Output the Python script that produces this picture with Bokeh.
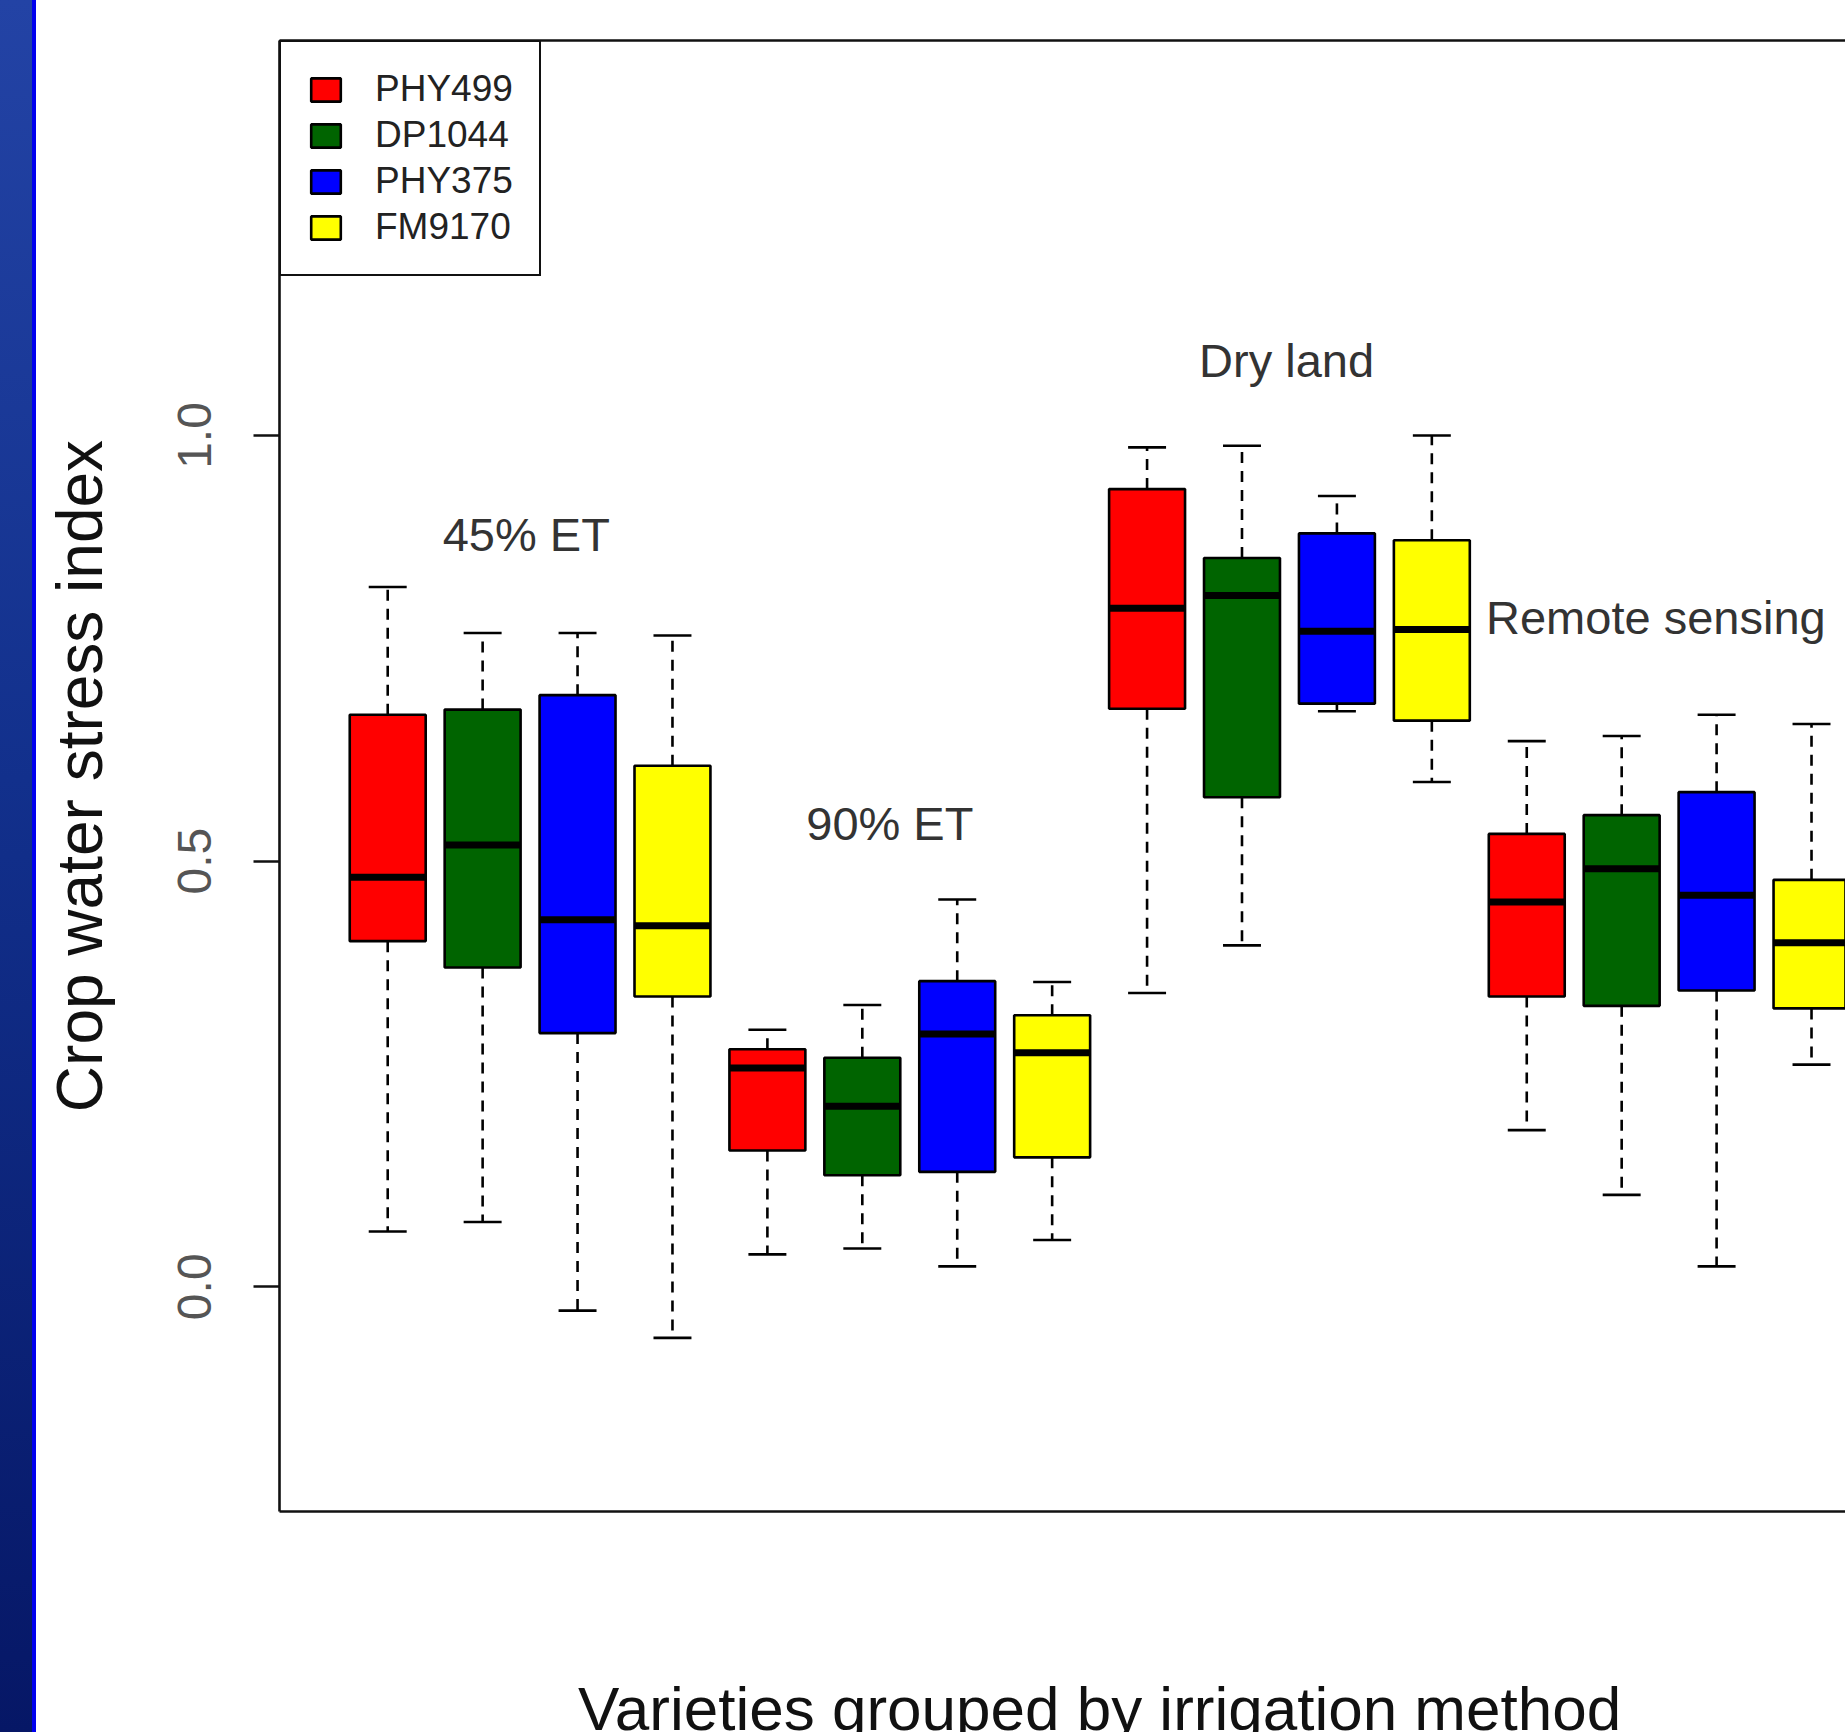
from bokeh.plotting import figure
from bokeh.models import (Range1d, LinearAxis, FixedTicker, NumeralTickFormatter,
                          Legend, LegendItem, Div, ColumnDataSource)
from bokeh.layouts import row, column
from bokeh.embed import file_html
from bokeh.resources import INLINE
from bokeh.core.properties import value

# ---------------- data ----------------
groups = ["45% ET", "90% ET", "Dry land", "Remote sensing"]
varieties = ["PHY499", "DP1044", "PHY375", "FM9170"]
colors = ["#ff0000", "#006400", "#0000ff", "#ffff00"]

# values per variety, one per irrigation group (45% ET, 90% ET, Dry land, Remote sensing)
whisker_low = {
    "PHY499": [0.065, 0.038, 0.345, 0.184],
    "DP1044": [0.076, 0.045, 0.401, 0.108],
    "PHY375": [-0.028, 0.024, 0.676, 0.024],
    "FM9170": [-0.060, 0.055, 0.593, 0.261],
}
quart_1 = {
    "PHY499": [0.406, 0.160, 0.679, 0.341],
    "DP1044": [0.375, 0.131, 0.575, 0.330],
    "PHY375": [0.298, 0.135, 0.685, 0.348],
    "FM9170": [0.341, 0.152, 0.665, 0.327],
}
medians = {
    "PHY499": [0.481, 0.257, 0.797, 0.452],
    "DP1044": [0.519, 0.212, 0.812, 0.491],
    "PHY375": [0.431, 0.297, 0.770, 0.460],
    "FM9170": [0.424, 0.275, 0.772, 0.404],
}
quart_3 = {
    "PHY499": [0.672, 0.279, 0.937, 0.532],
    "DP1044": [0.678, 0.269, 0.856, 0.554],
    "PHY375": [0.695, 0.359, 0.885, 0.581],
    "FM9170": [0.612, 0.319, 0.877, 0.478],
}
whisker_high = {
    "PHY499": [0.822, 0.302, 0.986, 0.641],
    "DP1044": [0.768, 0.331, 0.988, 0.647],
    "PHY375": [0.768, 0.455, 0.929, 0.672],
    "FM9170": [0.765, 0.358, 1.000, 0.661],
}

group_label_x = [2.46, 6.29, 10.47, 14.36]
group_label_y = [0.884, 0.544, 1.088, 0.786]

y_ticks = [0.0, 0.5, 1.0]
y_title = "Crop water stress index"
x_title = "Varieties grouped by irrigation method"

# ---------------- styling ----------------
FONT = "Liberation Sans"
BOX_W = 0.8
CAP_W = 0.4
LW = 2.6
PLOT_W = 1809

x_rng = Range1d(-0.14, 16.358)

p = figure(width=PLOT_W, height=1582, output_backend="svg", toolbar_location=None,
           x_range=x_rng, y_range=Range1d(-0.264, 1.464),
           x_axis_location=None, y_axis_location=None,
           min_border_left=243, min_border_right=0,
           min_border_top=40, min_border_bottom=71)
p.outline_line_color = None
p.grid.visible = False

# left axis
yaxis = LinearAxis(ticker=FixedTicker(ticks=y_ticks),
                   formatter=NumeralTickFormatter(format="0.0"),
                   axis_label=y_title)
yaxis.axis_line_width = LW
yaxis.axis_line_color = "#111111"
yaxis.major_tick_line_width = LW
yaxis.major_tick_line_color = "#111111"
yaxis.major_tick_out = 26
yaxis.major_tick_in = 0
yaxis.minor_tick_line_color = None
yaxis.major_label_orientation = "vertical"
yaxis.major_label_text_font = FONT
yaxis.major_label_text_font_size = "48px"
yaxis.major_label_text_color = "#555555"
yaxis.major_label_standoff = 42
yaxis.axis_label_text_font = FONT
yaxis.axis_label_text_font_size = "64px"
yaxis.axis_label_text_font_style = "normal"
yaxis.axis_label_text_color = "#111111"
yaxis.axis_label_standoff = 60
p.add_layout(yaxis, "left")

# top and bottom frame lines (no ticks)
for loc in ("below", "above"):
    ax = LinearAxis(ticker=FixedTicker(ticks=[]))
    ax.axis_line_width = LW
    ax.axis_line_color = "#111111"
    ax.major_tick_line_color = None
    ax.minor_tick_line_color = None
    ax.major_label_text_font_size = "0px"
    p.add_layout(ax, loc)

legend_items = []
n_var = len(varieties)
for i, (var, col) in enumerate(zip(varieties, colors)):
    pos = [g * n_var + i + 1 for g in range(len(groups))]
    src = ColumnDataSource(dict(
        x=pos,
        lo=whisker_low[var], q1=quart_1[var], med=medians[var],
        q3=quart_3[var], hi=whisker_high[var],
        bx0=[x - BOX_W / 2 for x in pos], bx1=[x + BOX_W / 2 for x in pos],
        cx0=[x - CAP_W / 2 for x in pos], cx1=[x + CAP_W / 2 for x in pos],
    ))
    # whiskers (dashed)
    p.segment(x0="x", y0="q3", x1="x", y1="hi", source=src, line_color="black",
              line_width=LW, line_dash="11 8")
    p.segment(x0="x", y0="q1", x1="x", y1="lo", source=src, line_color="black",
              line_width=LW, line_dash="11 8")
    # caps
    p.segment(x0="cx0", y0="hi", x1="cx1", y1="hi", source=src, line_color="black",
              line_width=LW)
    p.segment(x0="cx0", y0="lo", x1="cx1", y1="lo", source=src, line_color="black",
              line_width=LW)
    # boxes
    r = p.vbar(x="x", width=BOX_W, bottom="q1", top="q3", source=src,
               fill_color=col, line_color="black", line_width=LW)
    # medians
    p.segment(x0="bx0", y0="med", x1="bx1", y1="med", source=src, line_color="black",
              line_width=7)
    legend_items.append(LegendItem(label=var, renderers=[r]))

# group labels
p.text(x=group_label_x, y=group_label_y, text=groups,
       text_font=value(FONT), text_font_size="47px", text_align="center",
       text_baseline="middle", text_color="#333333")

# legend
legend = Legend(items=legend_items, location="top_left", margin=0, padding=26,
                spacing=4, glyph_width=37, glyph_height=29, label_standoff=31,
                label_text_font=FONT, label_text_font_size="37px",
                label_text_color="#222222",
                border_line_color="#111111", border_line_width=LW,
                border_line_alpha=1.0,
                background_fill_color="white", background_fill_alpha=1.0)
p.add_layout(legend)

# strip under the plot holding the x-axis title, centred on the full R plotting region
p2 = figure(width=PLOT_W, height=150, output_backend="svg", toolbar_location=None,
            x_range=x_rng, y_range=Range1d(0, 150),
            x_axis_location=None, y_axis_location=None,
            min_border_left=243, min_border_right=0,
            min_border_top=0, min_border_bottom=0)
p2.outline_line_color = None
p2.grid.visible = False
p2.text(x=[8.5], y=[24], text=[x_title], text_font=value(FONT),
        text_font_size="62px", text_align="center", text_baseline="middle",
        text_color="#111111")

strip = Div(width=36, height=1732, margin=0, styles={
    "background": "linear-gradient(to right, rgba(0,0,0,0) 32px, #0000ee 32px), "
                  "linear-gradient(to bottom, #2343a5 0%, #12308c 45%, #061766 100%)"
})

layout = row(strip, column(p, p2, spacing=0), spacing=0)
open("out.html", "w").write(file_html(layout, INLINE))
